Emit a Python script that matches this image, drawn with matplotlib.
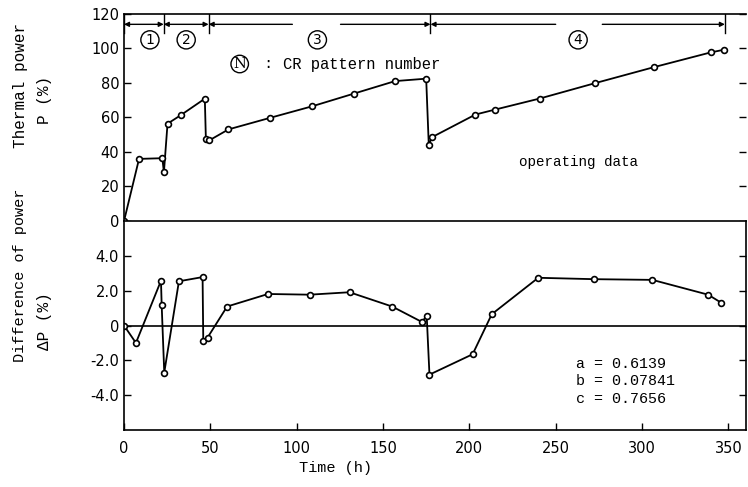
import matplotlib
matplotlib.use("Agg")
import matplotlib.pyplot as plt

# thermal power, operating data
t_power = [0, 8.7, 22.2, 23.1, 25.2, 32.8, 46.8, 47.4, 49.5, 60.5, 84.6, 109, 133, 157,
           175, 176.5, 178.4, 203.5, 215, 240.8, 272.8, 307, 339.7, 347.6]
power = [0, 36.0, 36.4, 28.2, 56.4, 61.3, 70.9, 47.8, 46.8, 53.1, 59.8, 66.5, 73.8, 81.1,
         82.5, 44.1, 48.6, 61.7, 64.6, 71.0, 79.9, 89.2, 97.7, 99.3]

# difference of power
t_diff = [0, 6.9, 21.4, 21.8, 23.3, 31.8, 45.5, 45.9, 48.4, 59.7, 83.4, 107.5, 130.6, 155.3,
          172.6, 175.3, 176.9, 201.9, 213, 239.9, 272.3, 306, 338.3, 346]
diff = [0, -1.0, 2.57, 1.2, -2.7, 2.54, 2.78, -0.87, -0.69, 1.09, 1.81, 1.77, 1.91, 1.09,
        0.2, 0.57, -2.82, -1.65, 0.65, 2.74, 2.66, 2.62, 1.77, 1.3]

# CR pattern periods
pattern_edges = [0, 23, 49, 177.5, 348]
pattern_names = ["1", "2", "3", "4"]
pattern_label_t = [15, 36, 112, 263]
pattern_gaps = [None, None, (97.5, 125.4), (250, 277)]

coef_text = "a = 0.6139\nb = 0.07841\nc = 0.7656"

mono = "Liberation Mono"

fig = plt.figure(figsize=(7.48, 4.87), dpi=100)
ax1 = fig.add_axes([0.1658, 0.5462, 0.831, 0.4251])
ax2 = fig.add_axes([0.1658, 0.117, 0.831, 0.4292])

for ax in (ax1, ax2):
    ax.set_xlim(0, 360)
    ax.tick_params(direction="in", labelsize=10.5, length=5, width=1)
    ax.tick_params(axis="y", right=True)
    for s in ax.spines.values():
        s.set_linewidth(1.2)

# upper panel
ax1.plot(t_power, power, color="black", lw=1.3, marker="o", ms=4.2,
         mfc="white", mec="black", mew=1.2)
ax1.set_ylim(0, 120)
ax1.set_yticks(range(0, 121, 20))
ax1.set_xticks([])
ax1.spines["right"].set_visible(False)
ax1.spines["bottom"].set_visible(False)

ybar = 114
for i in range(len(pattern_names)):
    a, b = pattern_edges[i], pattern_edges[i + 1]
    ax1.plot([a, a], [109, 120], color="black", lw=1)
    gap = pattern_gaps[i]
    if gap is None:
        ax1.annotate("", xy=(a, ybar), xytext=(b, ybar),
                     arrowprops=dict(arrowstyle="<|-|>", lw=1, color="black",
                                     mutation_scale=7, shrinkA=0, shrinkB=0))
    else:
        ax1.annotate("", xy=(a, ybar), xytext=(gap[0], ybar),
                     arrowprops=dict(arrowstyle="-|>", lw=1, color="black",
                                     mutation_scale=7, shrinkA=0, shrinkB=0))
        ax1.annotate("", xy=(b, ybar), xytext=(gap[1], ybar),
                     arrowprops=dict(arrowstyle="-|>", lw=1, color="black",
                                     mutation_scale=7, shrinkA=0, shrinkB=0))
    ax1.text(pattern_label_t[i], 105, pattern_names[i], ha="center", va="center",
             fontsize=10, family="DejaVu Sans",
             bbox=dict(boxstyle="circle,pad=0.15", fc="white", ec="black", lw=1))
ax1.plot([pattern_edges[-1]] * 2, [109, 120], color="black", lw=1)

ax1.text(67, 91, "N", ha="center", va="center", fontsize=10.5, family="DejaVu Serif",
         bbox=dict(boxstyle="circle,pad=0.12", fc="white", ec="black", lw=1))
ax1.text(83, 91, ":", ha="center", va="center", fontsize=11, family=mono)
ax1.text(92, 91, "CR pattern number", ha="left", va="center", fontsize=11.2, family=mono)
ax1.text(263, 34, "operating data", ha="center", va="center", fontsize=10.3, family=mono)

# lower panel
ax2.axhline(0, color="black", lw=1.2)
ax2.plot(t_diff, diff, color="black", lw=1.3, marker="o", ms=4.2,
         mfc="white", mec="black", mew=1.2)
ax2.set_ylim(-6, 6)
ax2.set_yticks([-4, -2, 0, 2, 4])
ax2.set_yticklabels(["-4.0", "-2.0", "0", "2.0", "4.0"])
ax2.set_xticks(range(0, 351, 50))
ax2.tick_params(axis="x", pad=8)
ax2.text(262, -3.2, coef_text, ha="left", va="center", fontsize=10.8,
         family=mono, linespacing=1.3)

fig.text(0.027, 0.825, "Thermal power", rotation=90, ha="center", va="center",
         fontsize=11.5, family=mono)
fig.text(0.06, 0.795, "P (%)", rotation=90, ha="center", va="center",
         fontsize=11.5, family=mono)
fig.text(0.027, 0.435, "Difference of power", rotation=90, ha="center", va="center",
         fontsize=11, family=mono)
fig.text(0.06, 0.34, "\u0394P (%)", rotation=90, ha="center", va="center",
         fontsize=11.5, family=mono)
fig.text(0.449, 0.039, "Time (h)", ha="center", va="center", fontsize=11, family=mono)

fig.savefig("out.png", dpi=100)
